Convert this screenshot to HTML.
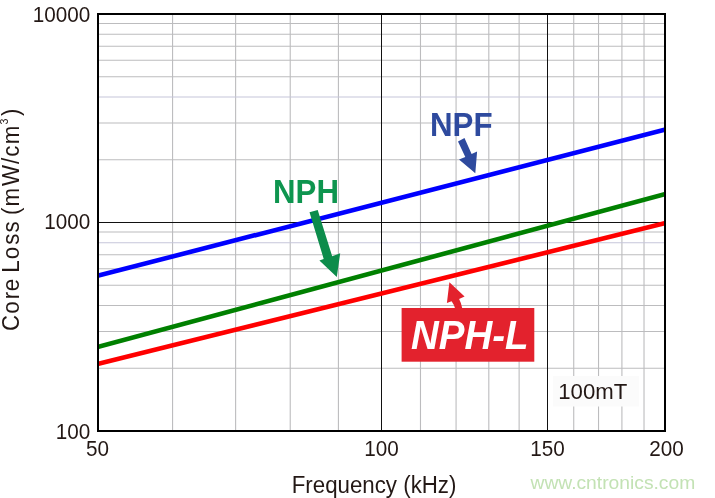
<!DOCTYPE html>
<html lang="en"><head><meta charset="utf-8"><title>Core Loss vs Frequency</title>
<style>
html,body{margin:0;padding:0;background:#fff;}
body{width:715px;height:498px;overflow:hidden;}
svg{display:block;}
text{font-family:"Liberation Sans",sans-serif;}
</style></head><body>
<svg width="715" height="498" viewBox="0 0 715 498">
<rect x="0" y="0" width="715" height="498" fill="#ffffff"/>
<defs><clipPath id="plot"><rect x="99" y="15" width="565" height="415"/></clipPath></defs>

<g stroke="#bcbcbe" stroke-width="1.1" fill="none">
<line x1="172.57" y1="15" x2="172.57" y2="430"/>
<line x1="235.62" y1="15" x2="235.62" y2="430"/>
<line x1="290.23" y1="15" x2="290.23" y2="430"/>
<line x1="338.41" y1="15" x2="338.41" y2="430"/>
<line x1="420.48" y1="15" x2="420.48" y2="430"/>
<line x1="456.07" y1="15" x2="456.07" y2="430"/>
<line x1="488.81" y1="15" x2="488.81" y2="430"/>
<line x1="519.12" y1="15" x2="519.12" y2="430"/>
<line x1="573.73" y1="15" x2="573.73" y2="430"/>
<line x1="598.53" y1="15" x2="598.53" y2="430"/>
<line x1="621.91" y1="15" x2="621.91" y2="430"/>
<line x1="644.02" y1="15" x2="644.02" y2="430"/>
<line x1="99" y1="23.54" x2="664" y2="23.54"/>
<line x1="99" y1="34.21" x2="664" y2="34.21"/>
<line x1="99" y1="46.30" x2="664" y2="46.30"/>
<line x1="99" y1="60.26" x2="664" y2="60.26"/>
<line x1="99" y1="76.76" x2="664" y2="76.76"/>
<line x1="99" y1="96.97" x2="664" y2="96.97" stroke="#c6c6da"/>
<line x1="99" y1="123.02" x2="664" y2="123.02"/>
<line x1="99" y1="159.74" x2="664" y2="159.74"/>
<line x1="99" y1="232.04" x2="664" y2="232.04"/>
<line x1="99" y1="242.71" x2="664" y2="242.71" stroke="#c6c6da"/>
<line x1="99" y1="254.80" x2="664" y2="254.80"/>
<line x1="99" y1="268.76" x2="664" y2="268.76"/>
<line x1="99" y1="285.26" x2="664" y2="285.26"/>
<line x1="99" y1="305.47" x2="664" y2="305.47"/>
<line x1="99" y1="331.52" x2="664" y2="331.52"/>
<line x1="99" y1="368.24" x2="664" y2="368.24"/>
</g>
<g stroke="#111" stroke-width="1" fill="none" shape-rendering="crispEdges">
<line x1="381.5" y1="15" x2="381.5" y2="430"/>
<line x1="547.5" y1="15" x2="547.5" y2="430"/>
<line x1="99" y1="222.5" x2="664" y2="222.5"/>
</g>
<rect x="553" y="376" width="86" height="30.5" fill="#fbfbfb"/>
<text transform="translate(558.20,399.10) scale(1,1.000)" font-size="22.2" fill="#231815">100mT</text>
<g clip-path="url(#plot)" fill="none" stroke-width="4.6">
<line x1="98" y1="275.7" x2="665" y2="129.6" stroke="#0000ff"/>
<line x1="98" y1="346.8" x2="665" y2="194.2" stroke="#008000"/>
<line x1="98" y1="363.9" x2="665" y2="223.1" stroke="#ff0000"/>
</g>
<rect x="98" y="14" width="567" height="417" fill="none" stroke="#000" stroke-width="2" shape-rendering="crispEdges"/>
<text transform="translate(430.00,135.50) scale(1,1.070)" font-size="31.3" font-weight="bold" fill="#2e4a9e">NPF</text>
<polygon fill="#2e4a9e" points="458.0,141.5 464.5,138.1 471.6,154.0 477.1,151.6 475.3,173.2 459.0,159.4 465.3,156.9"/>
<text transform="translate(273.10,202.70) scale(1,1.070)" font-size="31.2" font-weight="bold" fill="#0e954f">NPH</text>
<polygon fill="#0c8c4b" points="309.5,212.3 317.7,209.9 332.2,256.3 340.2,253.2 336.8,277.1 319.4,260.6 323.7,258.9"/>
<rect x="401.6" y="308" width="132.7" height="53.7" fill="#e3222d"/>
<path fill="#e3222d" d="M449.4,282.2 L464.6,296.6 L459.1,299.1 Q461.3,303 462.3,308.5 L455.1,308.5 Q454,304.5 451.6,301.3 L446.9,302.9 Z"/>
<text transform="translate(411.00,349.40) scale(1,1.050)" font-size="38.5" font-weight="bold" font-style="italic" fill="#ffffff">NPH-L</text>
<g fill="#231815">
<text transform="translate(90.30,22.40) scale(1,1.056)" font-size="20.7" text-anchor="end">10000</text>
<text transform="translate(90.30,228.70) scale(1,1.056)" font-size="20.7" text-anchor="end">1000</text>
<text transform="translate(90.30,438.80) scale(1,1.056)" font-size="20.7" text-anchor="end">100</text>
<text transform="translate(97.60,456.30) scale(1,1.056)" font-size="20.7" text-anchor="middle">50</text>
<text transform="translate(381.50,456.30) scale(1,1.056)" font-size="20.7" text-anchor="middle">100</text>
<text transform="translate(547.50,456.30) scale(1,1.056)" font-size="20.7" text-anchor="middle">150</text>
<text transform="translate(666.50,456.30) scale(1,1.056)" font-size="20.7" text-anchor="middle">200</text>
</g>
<text transform="translate(291.70,492.70) scale(1,1.060)" font-size="22.3" fill="#231815">Frequency (kHz)</text>
<g transform="translate(19.2,329.9) rotate(-90) scale(1,1.043)" fill="#231815">
<text x="-1.13 16.06 30.62 38.55 51.75 57.27 70.76 85.18 97.28 109.23 114.82 123.52 143.80 166.00 173.05 185.62" y="0" font-size="22.3">Core Loss (mW/cm</text>
<text x="205.40" y="-10.7" font-size="10.6">3</text>
<text x="213.87" y="0" font-size="22.3">)</text>
</g>
<text transform="translate(530.50,488.80) scale(1,1.000)" font-size="19.25" fill="#c3e2b4">www.cntronics.com</text>
</svg></body></html>
